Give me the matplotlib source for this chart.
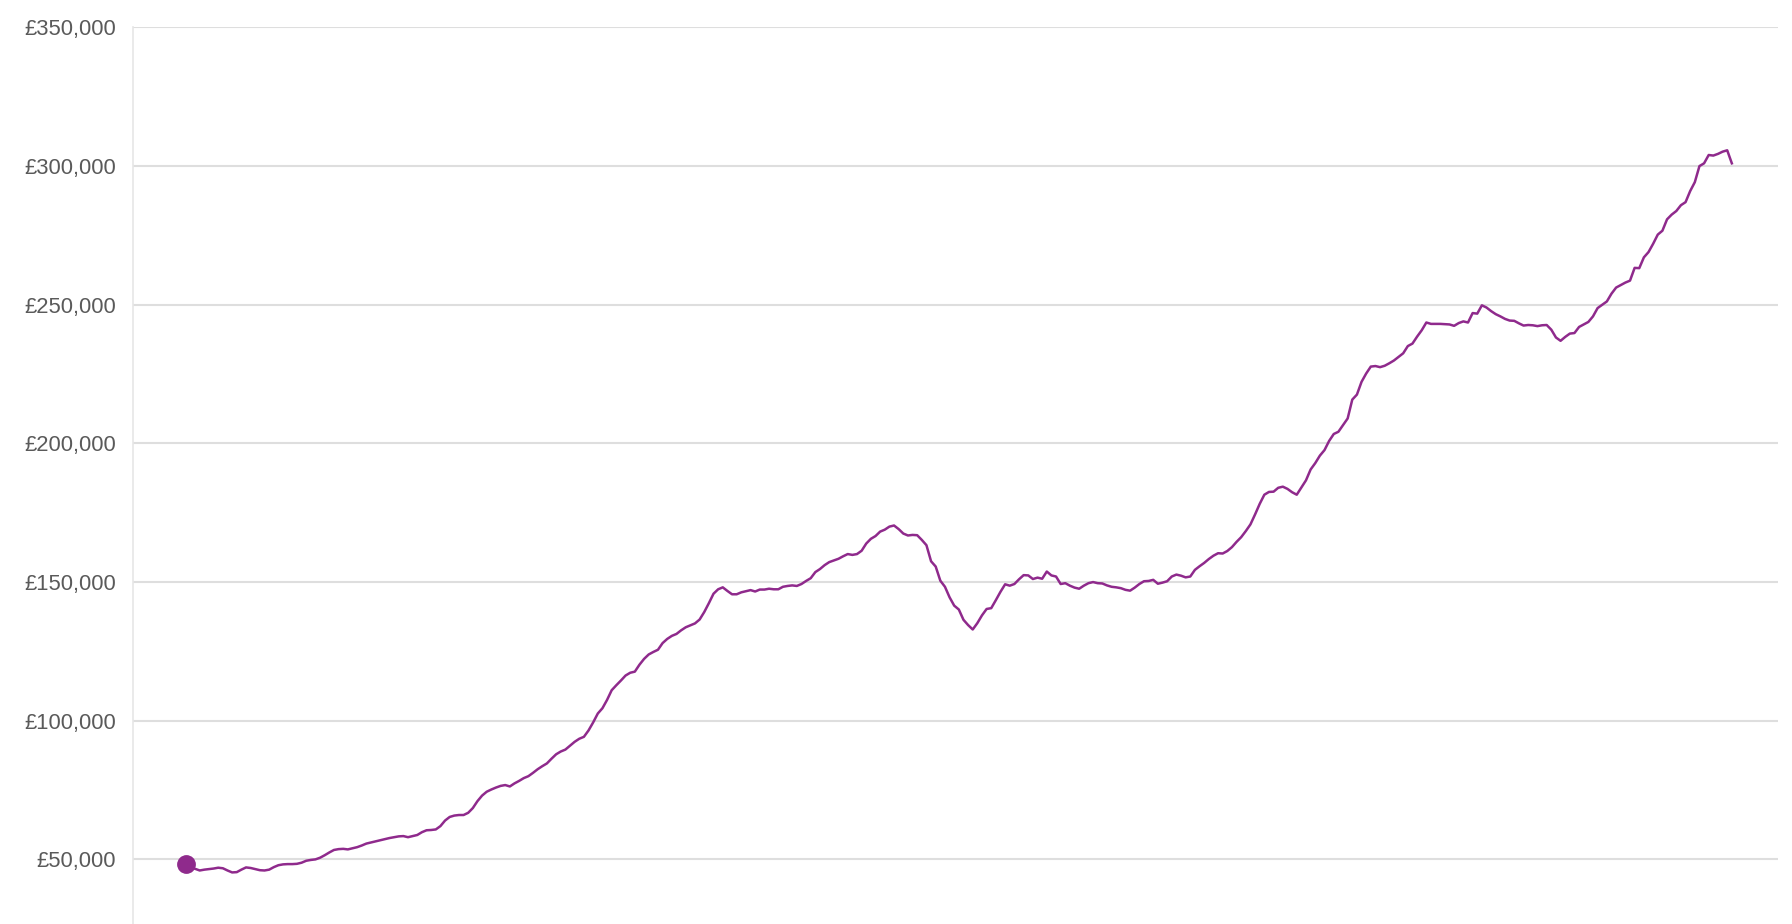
import matplotlib
matplotlib.use("Agg")
import matplotlib.pyplot as plt
from matplotlib.ticker import FuncFormatter

# average price per month, Jan 1995 .. Nov 2022
prices_1995_1999 = [
    48200, 47300, 46600, 46000, 46300, 46500, 46700, 47000, 46800, 46000, 45300, 45400,
    46300, 47100, 46900, 46500, 46100, 46000, 46300, 47200, 47900, 48200, 48300, 48300,
    48400, 48800, 49500, 49800, 50000, 50600, 51500, 52500, 53400, 53700, 53800, 53600,
    54000, 54400, 55000, 55700, 56100, 56500, 56900, 57300, 57700, 58000, 58300, 58400,
    58000, 58400, 58800, 59800, 60500, 60600, 60800, 62000, 64000, 65300, 65800, 66000,
]
prices_2000_2004 = [
    66000, 66800, 68500, 71000, 73000, 74400, 75200, 75900, 76500, 76800, 76300, 77400,
    78300, 79300, 80000, 81200, 82500, 83600, 84600, 86300, 87900, 88900, 89600, 91000,
    92400, 93500, 94200, 96500, 99400, 102600, 104500, 107500, 111000, 112800, 114500, 116300,
    117300, 117700, 120200, 122300, 123900, 124800, 125600, 128000, 129500, 130600, 131300, 132600,
    133700, 134400, 135100, 136500, 139200, 142400, 145800, 147400, 148100, 146800, 145600, 145600,
]
prices_2005_2009 = [
    146300, 146700, 147100, 146600, 147300, 147300, 147600, 147400, 147400, 148300, 148600, 148800,
    148600, 149300, 150400, 151400, 153600, 154700, 156100, 157200, 157800, 158400, 159300, 160100,
    159800, 160100, 161300, 163900, 165600, 166600, 168200, 168900, 170000, 170400, 169100, 167500,
    166800, 167000, 166900, 165200, 163300, 157500, 155600, 150500, 148300, 144500, 141500, 140100,
    136400, 134500, 132900, 135200, 138000, 140300, 140600, 143500, 146500, 149200, 148700, 149300,
]
prices_2010_2014 = [
    151000, 152500, 152400, 151100, 151600, 151200, 153800, 152400, 152000, 149300, 149600, 148700,
    148000, 147600, 148700, 149600, 150000, 149600, 149500, 148800, 148300, 148100, 147800, 147200,
    146900, 148000, 149300, 150300, 150400, 150800, 149400, 149800, 150300, 152000, 152700, 152300,
    151700, 152000, 154400, 155700, 156900, 158300, 159500, 160400, 160300, 161200, 162600, 164500,
    166200, 168400, 170800, 174400, 178200, 181500, 182500, 182600, 184000, 184400, 183600, 182400,
]
prices_2015_2019 = [
    181500, 184100, 186700, 190600, 192900, 195600, 197600, 200900, 203400, 204200, 206600, 209000,
    215800, 217600, 222200, 225200, 227700, 227900, 227500, 228000, 228900, 229900, 231200, 232500,
    235100, 236000, 238500, 240800, 243600, 243100, 243100, 243100, 243000, 242900, 242400, 243400,
    244000, 243600, 247000, 246800, 249800, 249000, 247700, 246600, 245800, 244900, 244300, 244200,
    243300, 242500, 242700, 242600, 242300, 242600, 242700, 241000, 238200, 237000, 238400, 239600,
]
prices_2020_2022 = [
    239800, 242000, 242900, 243800, 245800, 248800, 250000, 251200, 254000, 256200, 257100, 258000,
    258700, 263300, 263200, 267100, 269000, 272000, 275300, 276700, 280800, 282500, 283800, 285900,
    287000, 291000, 294200, 300000, 301000, 304000, 303800, 304400, 305200, 305700, 301000,
]

prices = (prices_1995_1999 + prices_2000_2004 + prices_2005_2009
          + prices_2010_2014 + prices_2015_2019 + prices_2020_2022)
months = list(range(len(prices)))

y_ticks = [50000, 100000, 150000, 200000, 250000, 300000, 350000]

LINE_COLOR = "#8f2a8c"
GRID_COLOR = "#dedede"
LABEL_COLOR = "#5a5a5a"


def price_label(value, pos):
    return f"£{value:,.0f}"


def draw_chart():
    plt.rcParams["font.family"] = ["Liberation Sans", "DejaVu Sans"]

    fig = plt.figure(figsize=(17.92, 9.24), dpi=100)
    ax = fig.add_axes([0.074, 0.0, 0.918, 0.9703])

    ax.plot(months, prices, color=LINE_COLOR, linewidth=1.8, zorder=3,
            solid_joinstyle="round")
    # marker on the first month
    ax.plot(months[0], prices[0], "o", color=LINE_COLOR, markersize=12.5, zorder=4)

    ax.set_xlim(-11.5, 343.9)
    ax.set_ylim(26700, 350000)

    ax.set_yticks(y_ticks)
    ax.yaxis.set_major_formatter(FuncFormatter(price_label))
    ax.set_xticks([])
    ax.grid(axis="y", color=GRID_COLOR, linewidth=1.5, zorder=0)
    ax.set_axisbelow(True)

    for side in ["top", "right", "bottom"]:
        ax.spines[side].set_visible(False)
    ax.spines["left"].set_color("#e6e6e6")
    ax.spines["left"].set_linewidth(1.2)

    ax.tick_params(axis="y", length=0, pad=12, labelsize=15.8, labelcolor=LABEL_COLOR)

    fig.savefig("out.png", dpi=100)


if __name__ == "__main__":
    draw_chart()
